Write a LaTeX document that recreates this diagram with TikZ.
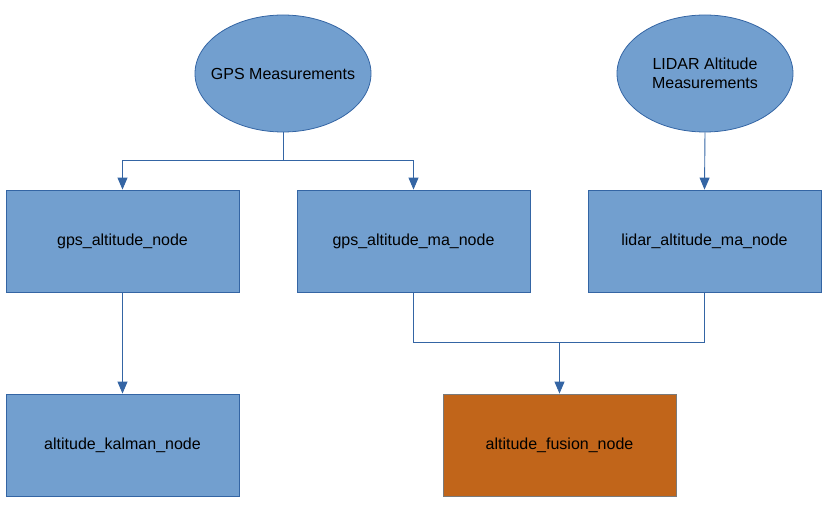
\documentclass[tikz,border=0pt]{standalone}
\usepackage{fontspec}
\setmainfont{Liberation Sans}
\usetikzlibrary{arrows.meta,shapes.geometric}
\definecolor{boxblue}{HTML}{729FCF}
\definecolor{edgeblue}{HTML}{3465A4}
\definecolor{fusionorange}{HTML}{C1651A}
\definecolor{fusionedge}{HTML}{7A7A7A}
\begin{document}
\begin{tikzpicture}[x=1pt,y=-1pt,
  every node/.style={font=\fontsize{16}{19}\selectfont, text=black, align=center, inner sep=0pt},
  source/.style={ellipse, draw=edgeblue, fill=boxblue, line width=0.8pt, inner xsep=-25pt, minimum width=176pt, minimum height=117pt},
  rosnode/.style={rectangle, draw=edgeblue, fill=boxblue, line width=0.8pt, minimum width=233pt, minimum height=102pt},
  fusion/.style={rosnode, draw=fusionedge, fill=fusionorange},
  link/.style={draw=edgeblue, line width=0.9pt},
  feed/.style={link, -{Triangle[width=10pt,length=12pt]}}
]
\useasboundingbox (0,0) rectangle (839,516);

% measurement sources
\node[source] (gps) at (283,73.5) {GPS Measurements};
\node[source] (lidar) at (705,73.5) {LIDAR Altitude\\Measurements};

% processing nodes
\node[rosnode] (gpsalt) at (122.5,241) {gps\_altitude\_node};
\node[rosnode] (gpsma) at (413.5,241) {gps\_altitude\_ma\_node};
\node[rosnode] (lidarma) at (704.5,241) {lidar\_altitude\_ma\_node};
\node[rosnode] (kalman) at (122.5,445) {altitude\_kalman\_node};
\node[fusion] (fusionnode) at (559.5,445) {altitude\_fusion\_node};

% junction points
\coordinate (gpssplit) at (283,160);
\coordinate (fusejoin) at (559.5,342);

% GPS feeds two nodes
\draw[link] (gps.south) -- (gpssplit);
\draw[feed] (gpssplit) -| (gpsalt.north);
\draw[feed] (gpssplit) -| (gpsma.north);

% LIDAR feed
\draw[feed] (lidar.south) -- (lidarma.north);

% filtered GPS to Kalman
\draw[feed] (gpsalt.south) -- (kalman.north);

% moving averages merged into fusion
\draw[link] (gpsma.south) |- (fusejoin);
\draw[link] (lidarma.south) |- (fusejoin);
\draw[feed] (fusejoin) -- (fusionnode.north);
\end{tikzpicture}
\end{document}
